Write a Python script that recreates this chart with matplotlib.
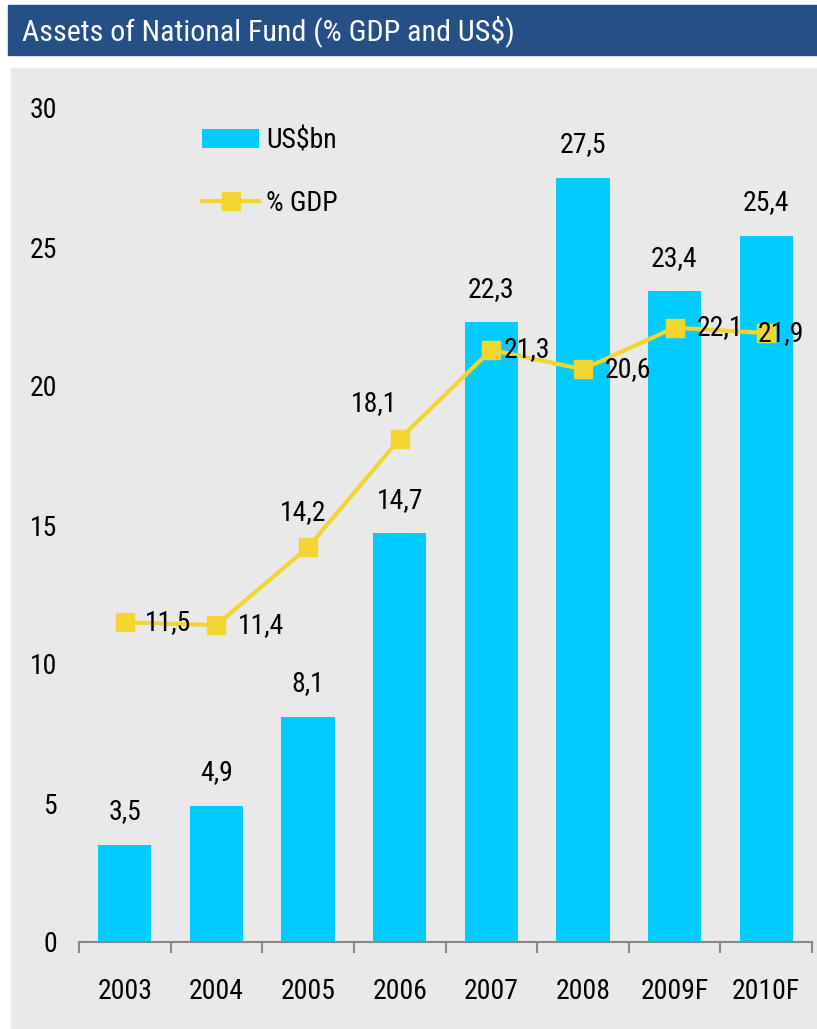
import numpy as np
import matplotlib.pyplot as plt
from matplotlib import font_manager
from matplotlib.patches import Rectangle

# prefer a narrow face if one is available
available = {f.name for f in font_manager.fontManager.ttflist}
narrow = [f for f in ['Roboto Condensed', 'Liberation Sans Narrow', 'DejaVu Sans Condensed',
                      'Liberation Sans'] if f in available]
plt.rcParams['font.family'] = narrow + ['DejaVu Sans']

years = ['2003', '2004', '2005', '2006', '2007', '2008', '2009F', '2010F']
usd_bn = [3.5, 4.9, 8.1, 14.7, 22.3, 27.5, 23.4, 25.4]
pct_gdp = [11.5, 11.4, 14.2, 18.1, 21.3, 20.6, 22.1, 21.9]

# where each % GDP label sits relative to its marker (pixels)
gdp_label_pos = [(20, 0, 'left'), (21, 0, 'left'), (-5, 35, 'center'), (-26, 35, 'center'),
                 (12, 0, 'left'), (22, 0, 'left'), (22, 0, 'left'), (-8, 0, 'left')]

bar_color = '#00CCFF'
line_color = '#F2D531'
panel_color = '#E9E9E9'
title_color = '#264F86'

fig = plt.figure(figsize=(8.17, 10.29), dpi=100)
fig.patch.set_facecolor('white')

# header band and grey chart panel
fig.patches.append(Rectangle((8 / 817, 1 - 55 / 1029), 1, 50 / 1029,
                             transform=fig.transFigure, color=title_color, zorder=-2))
fig.patches.append(Rectangle((11 / 817, 0), 1, 1 - 68 / 1029,
                             transform=fig.transFigure, color=panel_color, zorder=-2))
fig.text(22 / 817, 1 - 31 / 1029, 'Assets of National Fund (% GDP and US$)',
         color='white', fontsize=21.6, va='center', ha='left')

ax = fig.add_axes([79 / 817, 87 / 1029, 733 / 817, 834 / 1029])
ax.set_zorder(1)
ax.set_facecolor('none')

x = np.arange(len(years))
bars = ax.bar(x, usd_bn, width=0.58, color=bar_color, label='US$bn', zorder=2)
line, = ax.plot(x, pct_gdp, color=line_color, lw=3, marker='s', markersize=13,
                label='% GDP', zorder=3)

fmt = lambda v: f'{v:.1f}'.replace('.', ',')
for xi, v in zip(x, usd_bn):
    ax.annotate(fmt(v), (xi, v), xytext=(0, 33), textcoords='offset pixels',
                ha='center', va='center', fontsize=20, zorder=4)

for xi, v, (dx, dy, ha) in zip(x, pct_gdp, gdp_label_pos):
    ax.annotate(fmt(v), (xi, v), xytext=(dx, dy), textcoords='offset pixels',
                ha=ha, va='center', fontsize=20, zorder=4)

ax.set_xlim(-0.5, len(years) - 0.5)
ax.set_ylim(0, 30)
ax.set_yticks(np.arange(0, 31, 5))
ax.tick_params(axis='y', length=0, pad=16, labelsize=20)

ax.set_xticks(np.arange(-0.5, len(years), 1))
ax.set_xticklabels([])
ax.set_xticks(x, minor=True)
ax.set_xticklabels(years, minor=True)
ax.tick_params(axis='x', which='major', direction='out', length=8, width=1.5, color='#888888')
ax.tick_params(axis='x', which='minor', length=0, pad=26, labelsize=20)

for s in ['top', 'right', 'left']:
    ax.spines[s].set_visible(False)
ax.spines['bottom'].set_color('#888888')
ax.spines['bottom'].set_linewidth(1.5)

ax.legend([bars, line], ['US$bn', '% GDP'], loc='upper left', bbox_to_anchor=(0.134, 1.007),
          frameon=False, fontsize=20, handlelength=2.05, handleheight=0.72,
          labelspacing=1.3, handletextpad=0.25)

fig.savefig('out.png', dpi=100)
